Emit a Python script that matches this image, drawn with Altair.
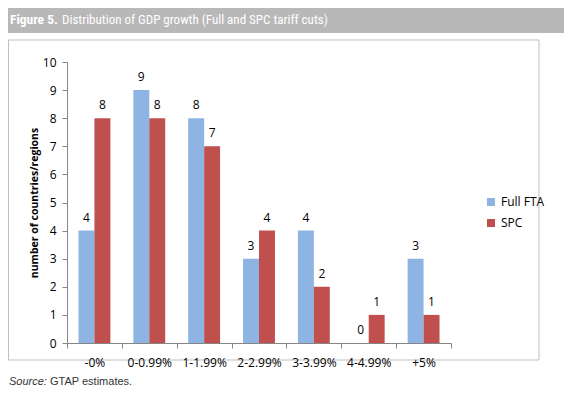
import altair as alt
import pandas as pd

categories = ["-0%", "0-0.99%", "1-1.99%", "2-2.99%", "3-3.99%", "4-4.99%", "+5%"]
full_fta = [4, 9, 8, 3, 4, 0, 3]
spc = [8, 8, 7, 4, 2, 1, 1]
series = ["Full FTA", "SPC"]
colors = ["#8EB4E3", "#C0504D"]
y_ticks = [0, 1, 2, 3, 4, 5, 6, 7, 8, 9, 10]

title_bold = "Figure 5."
title_rest = "Distribution of GDP growth (Full and SPC tariff cuts)"
source_label = "Source:"
source_text = "GTAP estimates."

rows = []
for c, f, s in zip(categories, full_fta, spc):
    rows.append({"cat": c, "series": series[0], "value": f})
    rows.append({"cat": c, "series": series[1], "value": s})
df = pd.DataFrame(rows)

W, H = 384, 281
FONT = "Open Sans"
NARROW = "Liberation Sans Narrow, Roboto Condensed, Arial Narrow, sans-serif"
AXC = "#868686"

x_enc = alt.X(
    "cat:N", sort=categories, title=None,
    scale=alt.Scale(paddingInner=0, paddingOuter=0),
    axis=alt.Axis(tickBand="extent", labelAngle=0, domainColor=AXC, tickColor=AXC,
                  tickSize=5, labelPadding=9, labelFont=FONT, labelFontSize=12,
                  labelColor="black", zindex=1),
)
xo_enc = alt.XOffset("series:N", sort=series,
                     scale=alt.Scale(paddingInner=0, paddingOuter=0.72))
y_enc = alt.Y(
    "value:Q", scale=alt.Scale(domain=[0, 10], nice=False),
    axis=alt.Axis(values=y_ticks, tickCount=20, format="d", labelOverlap=False,
                  grid=False, title="number of countries/regions",
                  domainColor=AXC, tickColor=AXC, tickSize=5, labelPadding=6,
                  labelFont=FONT, labelFontSize=12, labelColor="black",
                  titleFont=FONT, titleFontSize=10.5, titleFontWeight="bold",
                  titleColor="black", titlePadding=3, zindex=1),
)
color_enc = alt.Color(
    "series:N", sort=series,
    scale=alt.Scale(domain=series, range=colors),
    legend=alt.Legend(title=None, orient="none", legendX=418, legendY=134,
                      symbolType="square", symbolSize=64, symbolStrokeWidth=0,
                      labelFont=FONT, labelFontSize=12, labelColor="black",
                      rowPadding=9),
)

base = alt.Chart(df)
bars = base.mark_bar().encode(x=x_enc, xOffset=xo_enc, y=y_enc, color=color_enc)
labels = base.mark_text(baseline="bottom", dy=-6, font=FONT, fontSize=12,
                        color="black").encode(
    x=x_enc, xOffset=xo_enc, y=y_enc, text="value:Q")

one = pd.DataFrame({"k": [0]})
decor = alt.Chart(one)
box = decor.mark_rect(fillOpacity=0, stroke="#bfbfbf", strokeWidth=1).encode(
    x=alt.value(-58.5), x2=alt.value(472), y=alt.value(-22), y2=alt.value(298))
banner = decor.mark_rect(fill="#b8b8b8").encode(
    x=alt.value(-59), x2=alt.value(497), y=alt.value(-59), y2=alt.value(-29))
t1 = decor.mark_text(align="left", baseline="alphabetic", font=NARROW, fontSize=13.5,
                     fontWeight="bold", color="white").encode(
    x=alt.value(-57), y=alt.value(-38), text=alt.value(title_bold))
t2 = decor.mark_text(align="left", baseline="alphabetic", font=NARROW, fontSize=13,
                     color="white").encode(
    x=alt.value(-5), y=alt.value(-38), text=alt.value(title_rest))
s1 = decor.mark_text(align="left", baseline="alphabetic", font="Liberation Sans",
                     fontSize=11, fontStyle="italic", color="#333333").encode(
    x=alt.value(-58), y=alt.value(323), text=alt.value(source_label))
s2 = decor.mark_text(align="left", baseline="alphabetic", font="Liberation Sans",
                     fontSize=11, color="#333333").encode(
    x=alt.value(-17), y=alt.value(323), text=alt.value(source_text))

chart = alt.layer(box, banner, t1, t2, s1, s2, bars, labels).properties(
    width=W, height=H,
    autosize=alt.AutoSizeParams(type="none"),
    padding={"left": 59, "top": 54, "right": 113, "bottom": 44},
    background="white",
).configure_view(stroke=None)

chart.save("out.html", embed_options={"renderer": "svg", "actions": False})
